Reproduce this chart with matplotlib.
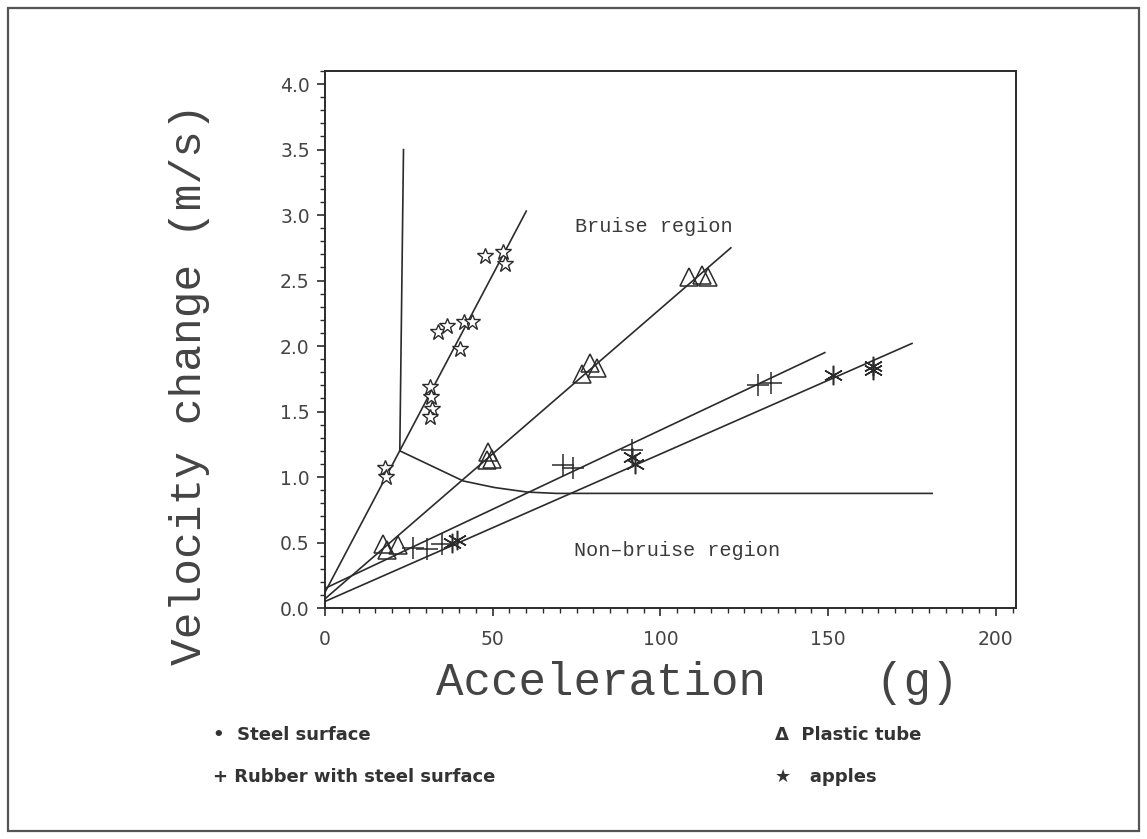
import matplotlib
matplotlib.use("Agg")
import matplotlib.pyplot as plt
from matplotlib.patches import Rectangle
from matplotlib.ticker import MultipleLocator

# ---- data ----
apple_x = [18.0, 18.2, 31.3, 31.5, 31.8, 31.3, 40.3, 33.8, 36.3, 41.3, 43.8, 47.8, 53.2, 53.7]
apple_y = [1.07, 1.00, 1.69, 1.61, 1.52, 1.46, 1.98, 2.11, 2.15, 2.18, 2.18, 2.69, 2.72, 2.63]
apple_fit_x = [0.0, 60.0]
apple_fit_y = [0.12, 3.03]

tube_x = [17.3, 18.5, 21.8, 48.7, 48.3, 49.8, 76.7, 79.1, 81.2, 108.4, 112.3, 114.3]
tube_y = [0.49, 0.44, 0.48, 1.19, 1.13, 1.14, 1.79, 1.87, 1.83, 2.53, 2.54, 2.53]
tube_fit_x = [0.0, 121.0]
tube_fit_y = [0.07, 2.75]

rubber_x = [26.3, 30.4, 35.0, 71.0, 74.0, 91.5, 129.0, 133.0]
rubber_y = [0.46, 0.45, 0.49, 1.09, 1.07, 1.21, 1.70, 1.72]
rubber_fit_x = [0.0, 149.0]
rubber_fit_y = [0.15, 1.95]

steel_x = [38.0, 39.5, 91.5, 92.5, 151.5, 163.5, 163.5]
steel_y = [0.50, 0.52, 1.15, 1.10, 1.78, 1.85, 1.82]
steel_fit_x = [0.0, 175.0]
steel_fit_y = [0.05, 2.02]

limit_vert_x = [22.3, 23.4]
limit_vert_y = [1.20, 3.50]
limit_curve_x = [22.3, 41.2, 50.5, 60.3, 69.0, 181.0]
limit_curve_y = [1.20, 0.97, 0.92, 0.885, 0.875, 0.875]

x_ticks = [0, 50, 100, 150, 200]
y_ticks = [0.0, 0.5, 1.0, 1.5, 2.0, 2.5, 3.0, 3.5, 4.0]
y_tick_labels = ["0.0", "0.5", "1.0", "1.5", "2.0", "2.5", "3.0", "3.5", "4.0"]

legend_left = ["\u2022  Steel surface", "+ Rubber with steel surface"]
legend_right = ["\u0394  Plastic tube", "\u2605   apples"]

# ---- figure ----
W, H = 1147, 839
fig = plt.figure(figsize=(W / 100, H / 100), dpi=100)
ink = "#2b2b2b"

# outer frame of the scanned page
fig.patches.append(Rectangle((8 / W, 1 - 831 / H), (1139 - 8) / W, (831 - 8) / H,
                             transform=fig.transFigure, fill=False,
                             edgecolor="#555555", linewidth=1.6))

ax = fig.add_axes([325 / W, 1 - 608 / H, (1016 - 325) / W, (608 - 71) / H])
ax.set_xlim(0, 206)
ax.set_ylim(0, 4.1)

lw = 1.2
ax.plot(apple_fit_x, apple_fit_y, color=ink, lw=lw)
ax.plot(tube_fit_x, tube_fit_y, color=ink, lw=lw)
ax.plot(rubber_fit_x, rubber_fit_y, color=ink, lw=lw)
ax.plot(steel_fit_x, steel_fit_y, color=ink, lw=lw)
ax.plot(limit_vert_x, limit_vert_y, color=ink, lw=lw)
ax.plot(limit_curve_x, limit_curve_y, color=ink, lw=lw)

ax.plot(apple_x, apple_y, ls="none", marker="*", ms=12, mfc="white", mec=ink, mew=1.0)
ax.plot(tube_x, tube_y, ls="none", marker="^", ms=13, mfc="none", mec=ink, mew=1.1)
ax.plot(rubber_x, rubber_y, ls="none", marker="+", ms=16, mec=ink, mew=1.1)
ax.plot(steel_x, steel_y, ls="none", marker=(6, 2, 0), ms=14, mec=ink, mew=1.1)

ax.text(98, 2.91, "Bruise region", ha="center", va="center",
        family="Liberation Mono", fontsize=14.5, color="#3a3a3a")
ax.text(105, 0.44, "Non\u2013bruise region", ha="center", va="center",
        family="Liberation Mono", fontsize=14.5, color="#3a3a3a")

ax.set_xticks(x_ticks)
ax.set_yticks(y_ticks)
ax.set_yticklabels(y_tick_labels)
ax.xaxis.set_minor_locator(MultipleLocator(5))
ax.yaxis.set_minor_locator(MultipleLocator(0.1))
ax.tick_params(which="major", direction="out", length=6, width=1.2, color=ink,
               labelsize=13.5, labelcolor="#444444", pad=5)
ax.tick_params(which="minor", direction="out", length=3.5, width=1.0, color=ink)
ax.tick_params(axis="x", which="major", pad=10)
for lab in ax.get_xticklabels() + ax.get_yticklabels():
    lab.set_family("DejaVu Sans")
for s in ax.spines.values():
    s.set_linewidth(1.4)
    s.set_color(ink)

fig.text(697 / W, 1 - 683 / H, "Acceleration    (g)", ha="center", va="center",
         family="Liberation Mono", fontsize=33, color="#444444")
fig.text(190 / W, 1 - 384 / H, "Velocity change (m/s)", ha="center", va="center",
         rotation=90, family="Liberation Mono", fontsize=32, color="#444444")

leg_font = dict(family=["Liberation Sans Narrow", "DejaVu Sans"], fontsize=13,
                weight="bold", color="#333333", va="center", ha="left")
fig.text(213 / W, 1 - 735 / H, legend_left[0], **leg_font)
fig.text(213 / W, 1 - 777 / H, legend_left[1], **leg_font)
fig.text(775 / W, 1 - 735 / H, legend_right[0], **leg_font)
fig.text(775 / W, 1 - 777 / H, legend_right[1], **leg_font)

fig.savefig("out.png", dpi=100, facecolor="white")
